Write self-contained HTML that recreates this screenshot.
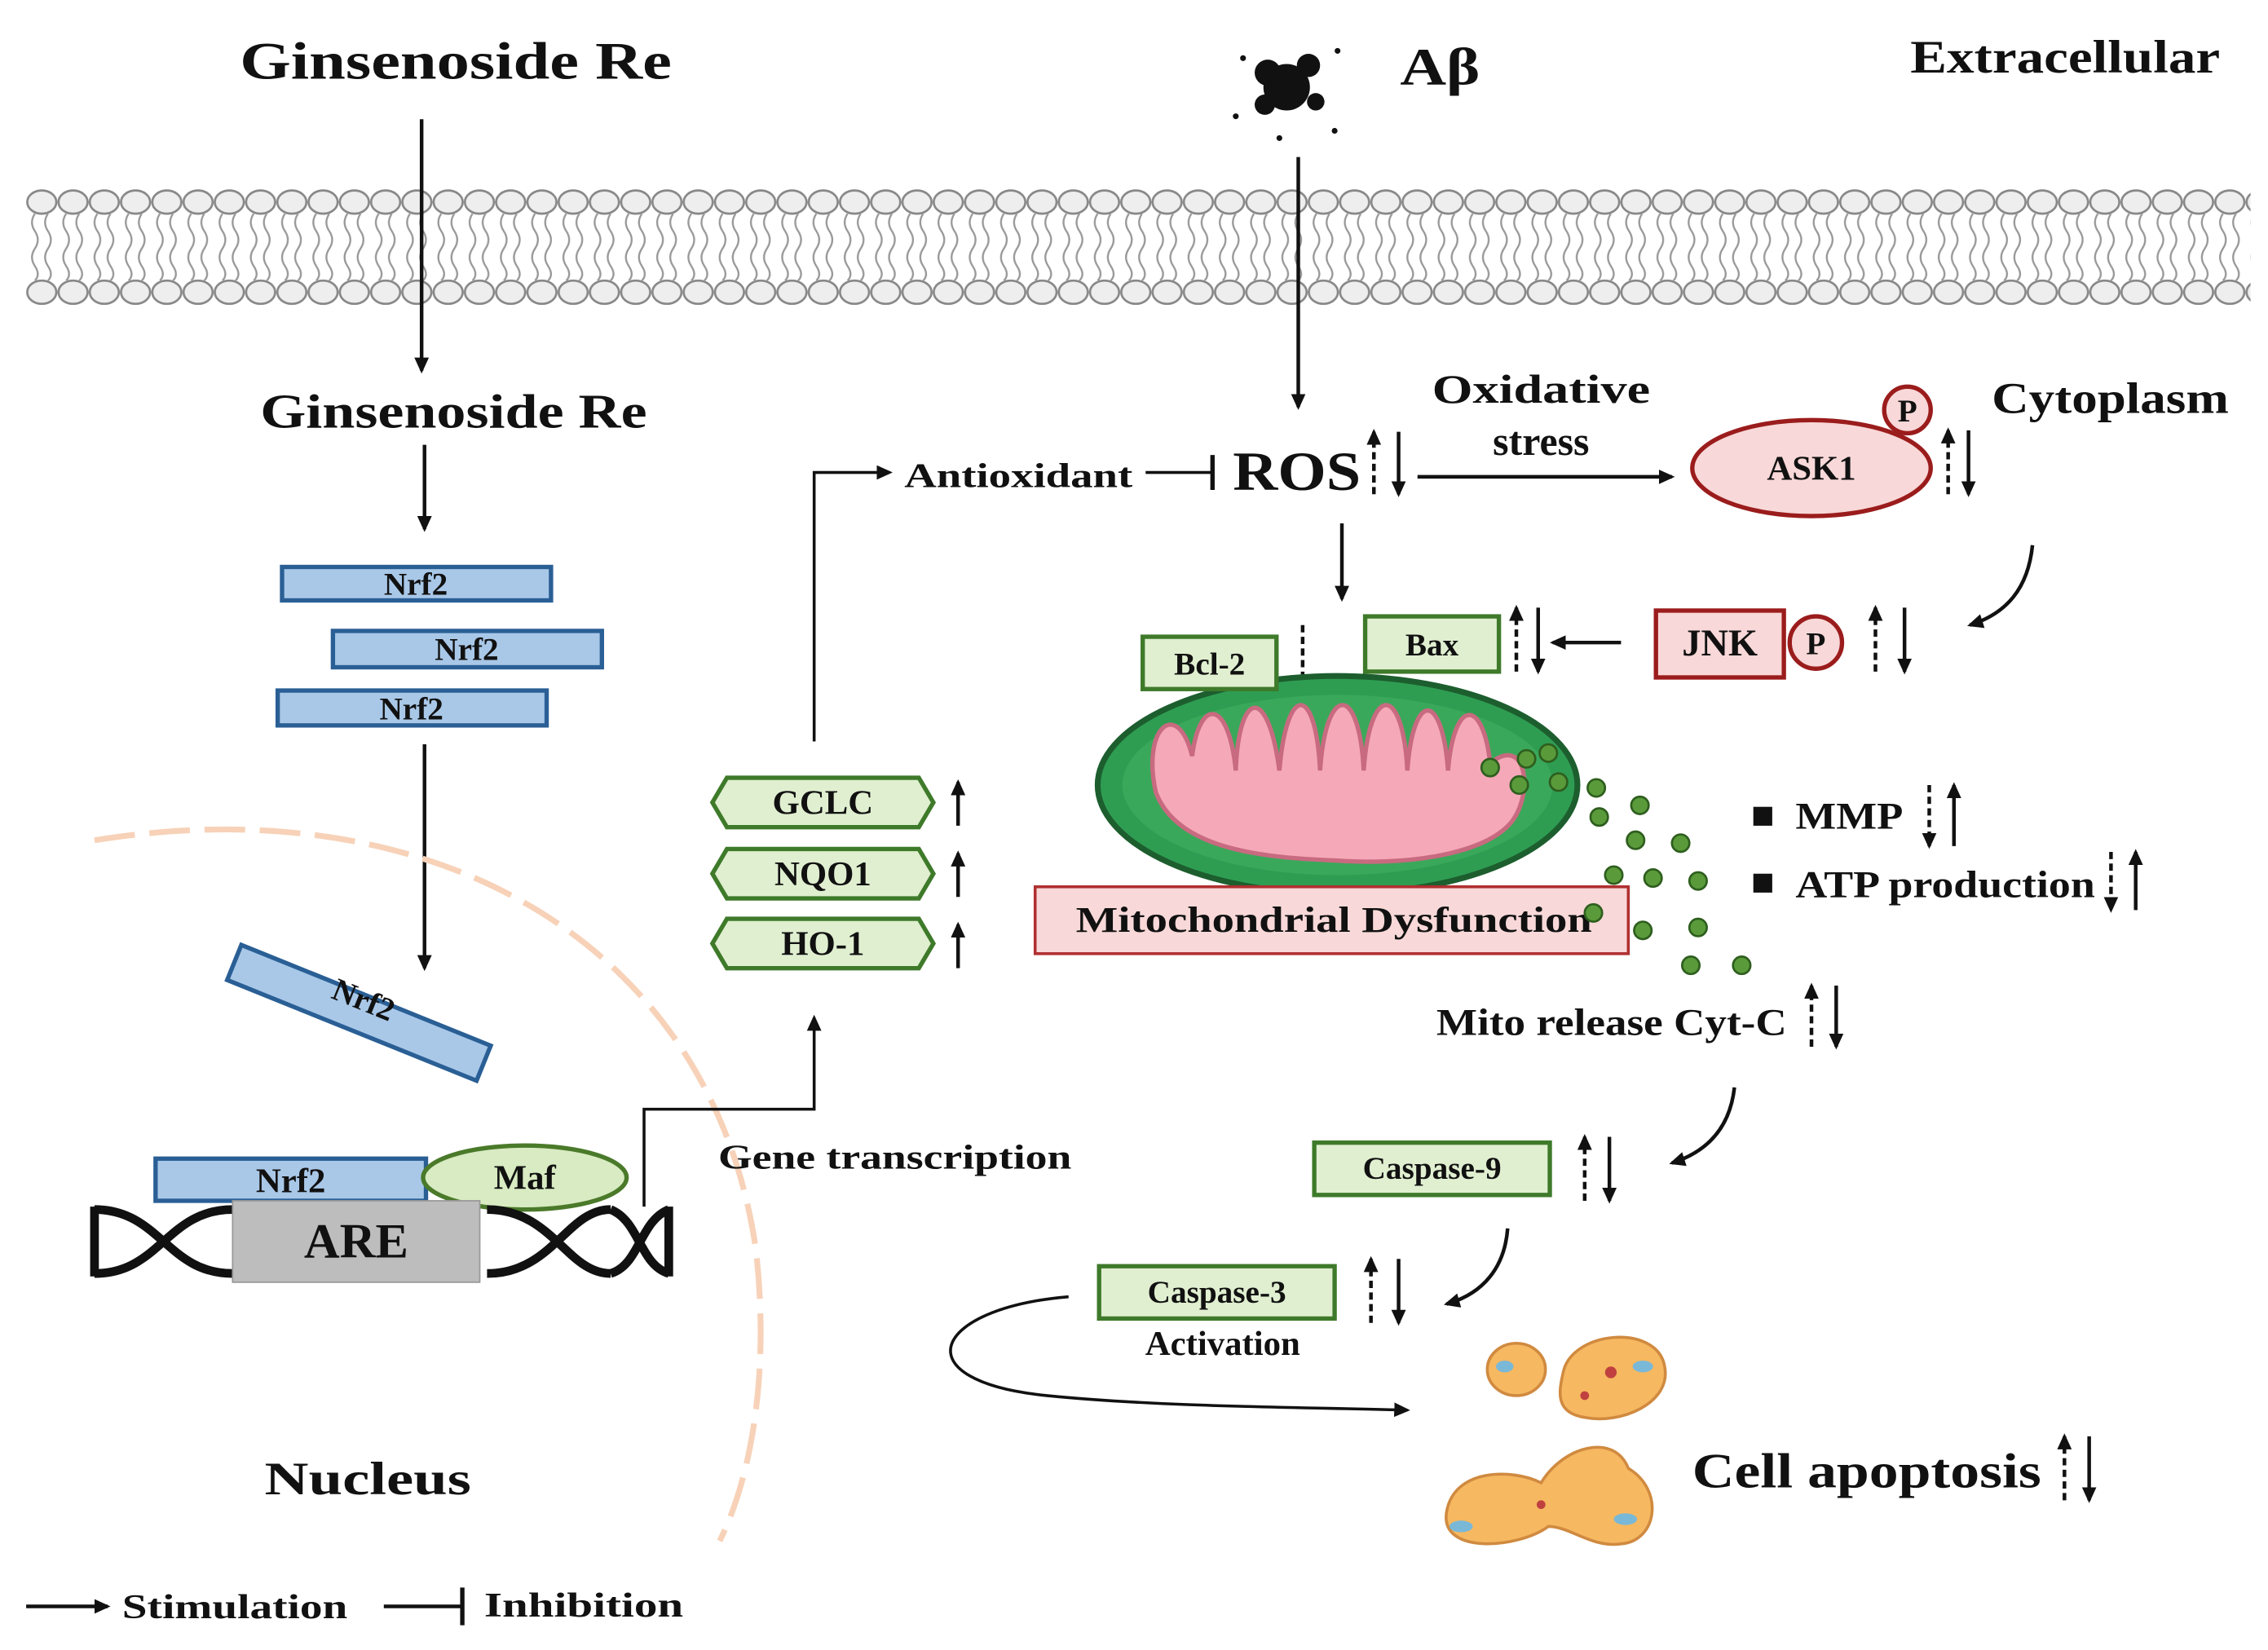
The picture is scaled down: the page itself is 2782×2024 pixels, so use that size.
<!DOCTYPE html>
<html><head><meta charset="utf-8"><style>
html,body{margin:0;padding:0;background:#fff}
svg{display:block}
text{font-family:"Liberation Serif",serif;font-weight:bold;fill:#111}
</style></head><body>
<svg width="2782" height="2024" viewBox="0 0 1560 1135" preserveAspectRatio="none" xmlns="http://www.w3.org/2000/svg">
<defs>
<marker id="ar" markerWidth="12" markerHeight="12" refX="9" refY="6" orient="auto" markerUnits="userSpaceOnUse"><path d="M0,1 L11,6 L0,11 z" fill="#111"/></marker>
<pattern id="mem" x="18" y="0" width="21.5" height="1135" patternUnits="userSpaceOnUse">
<ellipse cx="10.75" cy="139" rx="10" ry="8" fill="#eee" stroke="#888" stroke-width="1.5"/>
<ellipse cx="10.75" cy="201" rx="10" ry="8" fill="#eee" stroke="#888" stroke-width="1.5"/>
<path d="M6,147 q-4,6 0,12 q4,6 0,12 q-4,6 0,12 q4,6 0,10 M15,147 q-4,6 0,12 q4,6 0,12 q-4,6 0,12 q4,6 0,10" fill="none" stroke="#999" stroke-width="1.3"/>
</pattern>
</defs>
<rect x="18" y="128" width="1530" height="84" fill="url(#mem)"/>

<text x="165" y="54" font-size="36" textLength="297" lengthAdjust="spacingAndGlyphs">Ginsenoside  Re</text>
<text x="179" y="294" font-size="33" textLength="266" lengthAdjust="spacingAndGlyphs">Ginsenoside Re</text>
<text x="1314" y="50" font-size="32" textLength="213" lengthAdjust="spacingAndGlyphs">Extracellular</text>
<text x="1370" y="284" font-size="30" textLength="163" lengthAdjust="spacingAndGlyphs">Cytoplasm</text>
<text x="963" y="58" font-size="36" textLength="55" lengthAdjust="spacingAndGlyphs">Aβ</text>
<g fill="#111"><circle cx="885" cy="60" r="16"/><circle cx="872" cy="50" r="9"/><circle cx="900" cy="45" r="8"/><circle cx="870" cy="72" r="7"/><circle cx="905" cy="70" r="6"/><circle cx="855" cy="40" r="2"/><circle cx="920" cy="35" r="2"/><circle cx="850" cy="80" r="2"/><circle cx="918" cy="90" r="2"/><circle cx="880" cy="95" r="2"/></g>

<line x1="290" y1="82" x2="290" y2="255" stroke="#111" stroke-width="2.5" marker-end="url(#ar)"/>
<line x1="292" y1="306" x2="292" y2="364" stroke="#111" stroke-width="2.5" marker-end="url(#ar)"/>
<g fill="#a9c8e8" stroke="#2a5f95" stroke-width="3">
<rect x="194" y="390" width="185" height="23"/>
<rect x="229" y="434" width="185" height="25"/>
<rect x="191" y="475" width="185" height="24"/>
<rect x="107" y="797" width="186" height="29"/>
<rect x="0" y="0" width="185" height="26" transform="translate(166,650) rotate(22)"/>
</g>
<text x="286" y="409" font-size="22" text-anchor="middle">Nrf2</text>
<text x="321" y="454" font-size="22" text-anchor="middle">Nrf2</text>
<text x="283" y="495" font-size="22" text-anchor="middle">Nrf2</text>
<text x="200" y="820" font-size="24" text-anchor="middle">Nrf2</text>
<text x="250" y="695" font-size="22" text-anchor="middle" transform="rotate(22 250 688)">Nrf2</text>
<line x1="292" y1="512" x2="292" y2="666" stroke="#111" stroke-width="2.5" marker-end="url(#ar)"/>
<path d="M65,578 C300,540 490,650 520,860 C530,950 515,1020 495,1060" fill="none" stroke="#f7d2b8" stroke-width="4" stroke-dasharray="28,10"/>
<ellipse cx="361" cy="810" rx="70" ry="22" fill="#d8ebc2" stroke="#4a7a2a" stroke-width="3"/>
<text x="361" y="818" font-size="24" text-anchor="middle">Maf</text>
<g stroke="#111" stroke-width="6" fill="none">
<path d="M65,830 L65,878 M65,832 C110,832 115,876 160,876 M65,876 C110,876 115,832 160,832"/>
<path d="M335,832 C380,832 390,876 420,876 M335,876 C380,876 390,832 420,832 M420,832 C440,840 440,870 460,876 M420,876 C440,870 440,840 460,832 M460,830 L460,878"/>
</g>
<rect x="160" y="826" width="170" height="56" fill="#bdbdbd" stroke="#999"/>
<text x="245" y="865" font-size="34" text-anchor="middle" font-weight="normal">ARE</text>
<text x="182" y="1028" font-size="32" textLength="142" lengthAdjust="spacingAndGlyphs">Nucleus</text>
<polyline points="443,830 443,763 560,763 560,700" fill="none" stroke="#111" stroke-width="2" marker-end="url(#ar)"/>
<text x="494" y="804" font-size="24" textLength="243" lengthAdjust="spacingAndGlyphs">Gene transcription</text>

<g fill="#e0efd0" stroke="#3e7a2a" stroke-width="3">
<polygon points="490,552 500,535 632,535 642,552 632,569 500,569"/>
<polygon points="490,601 500,584 632,584 642,601 632,618 500,618"/>
<polygon points="490,649 500,632 632,632 642,649 632,666 500,666"/>
</g>
<text x="566" y="560" font-size="24" text-anchor="middle">GCLC</text>
<text x="566" y="609" font-size="24" text-anchor="middle">NQO1</text>
<text x="566" y="657" font-size="24" text-anchor="middle">HO-1</text>
<g stroke="#111" stroke-width="2.5"><line x1="659" y1="568" x2="659" y2="538" marker-end="url(#ar)"/><line x1="659" y1="617" x2="659" y2="587" marker-end="url(#ar)"/><line x1="659" y1="666" x2="659" y2="636" marker-end="url(#ar)"/></g>
<polyline points="560,510 560,325 612,325" fill="none" stroke="#111" stroke-width="2" marker-end="url(#ar)"/>
<text x="622" y="335" font-size="24" textLength="157" lengthAdjust="spacingAndGlyphs">Antioxidant</text>
<line x1="788" y1="325" x2="834" y2="325" stroke="#111" stroke-width="2"/><line x1="834" y1="313" x2="834" y2="337" stroke="#111" stroke-width="3"/>

<line x1="893" y1="108" x2="893" y2="280" stroke="#111" stroke-width="2.5" marker-end="url(#ar)"/>
<text x="848" y="337" font-size="38" font-weight="normal" textLength="88" lengthAdjust="spacingAndGlyphs">ROS</text>
<g stroke="#111" stroke-width="2.5">
<line x1="945" y1="340" x2="945" y2="297" stroke-dasharray="5,3" marker-end="url(#ar)"/>
<line x1="962" y1="297" x2="962" y2="340" marker-end="url(#ar)"/>
<line x1="975" y1="328" x2="1150" y2="328" marker-end="url(#ar)"/>
<line x1="923" y1="360" x2="923" y2="412" marker-end="url(#ar)"/>
</g>
<text x="985" y="277" font-size="28" textLength="150" lengthAdjust="spacingAndGlyphs">Oxidative</text>
<text x="1060" y="313" font-size="28" text-anchor="middle">stress</text>
<ellipse cx="1246" cy="322" rx="82" ry="33" fill="#f8d8d8" stroke="#9b1c1c" stroke-width="3"/>
<text x="1246" y="330" font-size="24" text-anchor="middle">ASK1</text>
<circle cx="1312" cy="282" r="16" fill="#f8d8d8" stroke="#9b1c1c" stroke-width="3"/><text x="1312" y="290" font-size="22" text-anchor="middle" font-weight="normal">P</text>
<g stroke="#111" stroke-width="2.5">
<line x1="1340" y1="340" x2="1340" y2="296" stroke-dasharray="5,3" marker-end="url(#ar)"/>
<line x1="1354" y1="296" x2="1354" y2="340" marker-end="url(#ar)"/>
</g>
<path d="M1398,375 C1395,405 1380,422 1355,430" fill="none" stroke="#111" stroke-width="2.5" marker-end="url(#ar)"/>
<rect x="1139" y="420" width="88" height="46" fill="#f8d8d8" stroke="#9b1c1c" stroke-width="3"/>
<text x="1183" y="451" font-size="26" text-anchor="middle" font-weight="normal">JNK</text>
<circle cx="1249" cy="442" r="18" fill="#f8d8d8" stroke="#9b1c1c" stroke-width="3"/><text x="1249" y="450" font-size="22" text-anchor="middle" font-weight="normal">P</text>
<g stroke="#111" stroke-width="2.5">
<line x1="1290" y1="462" x2="1290" y2="418" stroke-dasharray="5,3" marker-end="url(#ar)"/>
<line x1="1310" y1="418" x2="1310" y2="462" marker-end="url(#ar)"/>
<line x1="1115" y1="442" x2="1068" y2="442" marker-end="url(#ar)"/>
<line x1="1043" y1="462" x2="1043" y2="418" stroke-dasharray="5,3" marker-end="url(#ar)"/>
<line x1="1058" y1="418" x2="1058" y2="462" marker-end="url(#ar)"/>
<line x1="896" y1="430" x2="896" y2="474" stroke-dasharray="5,3" marker-end="url(#ar)"/>
</g>

<ellipse cx="920" cy="540" rx="165" ry="75" fill="#2e9d52" stroke="#1d5e2e" stroke-width="4"/>
<ellipse cx="920" cy="540" rx="148" ry="62" fill="#3aa85a"/>
<path d="M795,545 C785,500 810,480 820,520 C825,480 845,480 850,530 C852,475 872,470 880,530 C885,470 905,470 908,530 C912,470 935,470 938,530 C942,470 965,470 968,530 C972,475 992,475 996,530 C1000,480 1020,480 1025,525 C1050,505 1055,545 1040,565 C1020,590 960,595 920,592 C870,590 810,585 795,545 Z" fill="#f5a8b8" stroke="#c86a80" stroke-width="3"/>
<rect x="786" y="438" width="92" height="36" fill="#e0efd0" stroke="#3e7a2a" stroke-width="3"/>
<text x="832" y="464" font-size="22" text-anchor="middle">Bcl-2</text>
<rect x="939" y="424" width="92" height="38" fill="#e0efd0" stroke="#3e7a2a" stroke-width="3"/>
<text x="985" y="451" font-size="22" text-anchor="middle">Bax</text>
<rect x="712" y="610" width="408" height="46" fill="#f8d8d8" stroke="#b03030" stroke-width="2"/>
<text x="740" y="641" font-size="25" textLength="355" lengthAdjust="spacingAndGlyphs">Mitochondrial Dysfunction</text>
<g fill="#5a9a3a" stroke="#2e5e1e" stroke-width="1.5">
<circle cx="1025" cy="528" r="6"/><circle cx="1050" cy="522" r="6"/><circle cx="1065" cy="518" r="6"/><circle cx="1045" cy="540" r="6"/><circle cx="1072" cy="538" r="6"/><circle cx="1098" cy="542" r="6"/><circle cx="1128" cy="554" r="6"/><circle cx="1100" cy="562" r="6"/><circle cx="1125" cy="578" r="6"/><circle cx="1156" cy="580" r="6"/><circle cx="1110" cy="602" r="6"/><circle cx="1137" cy="604" r="6"/><circle cx="1168" cy="606" r="6"/><circle cx="1096" cy="628" r="6"/><circle cx="1130" cy="640" r="6"/><circle cx="1168" cy="638" r="6"/><circle cx="1163" cy="664" r="6"/><circle cx="1198" cy="664" r="6"/>
</g>
<rect x="1206" y="555" width="13" height="13" fill="#111"/>
<text x="1235" y="570" font-size="26" textLength="74" lengthAdjust="spacingAndGlyphs">MMP</text>
<g stroke="#111" stroke-width="2.5"><line x1="1327" y1="540" x2="1327" y2="582" stroke-dasharray="5,3" marker-end="url(#ar)"/><line x1="1344" y1="582" x2="1344" y2="540" marker-end="url(#ar)"/></g>
<rect x="1206" y="601" width="13" height="13" fill="#111"/>
<text x="1235" y="617" font-size="26" textLength="206" lengthAdjust="spacingAndGlyphs">ATP production</text>
<g stroke="#111" stroke-width="2.5"><line x1="1452" y1="586" x2="1452" y2="626" stroke-dasharray="5,3" marker-end="url(#ar)"/><line x1="1469" y1="626" x2="1469" y2="586" marker-end="url(#ar)"/></g>
<text x="988" y="712" font-size="26" textLength="241" lengthAdjust="spacingAndGlyphs">Mito release Cyt-C</text>
<g stroke="#111" stroke-width="2.5"><line x1="1246" y1="720" x2="1246" y2="678" stroke-dasharray="5,3" marker-end="url(#ar)"/><line x1="1263" y1="678" x2="1263" y2="720" marker-end="url(#ar)"/></g>
<path d="M1193,748 C1190,775 1175,792 1150,800" fill="none" stroke="#111" stroke-width="2.5" marker-end="url(#ar)"/>
<rect x="904" y="786" width="162" height="36" fill="#e0efd0" stroke="#3e7a2a" stroke-width="3"/>
<text x="985" y="811" font-size="22" text-anchor="middle">Caspase-9</text>
<g stroke="#111" stroke-width="2.5"><line x1="1090" y1="826" x2="1090" y2="782" stroke-dasharray="5,3" marker-end="url(#ar)"/><line x1="1107" y1="782" x2="1107" y2="826" marker-end="url(#ar)"/></g>
<path d="M1037,845 C1035,872 1020,890 995,897" fill="none" stroke="#111" stroke-width="2.5" marker-end="url(#ar)"/>
<rect x="756" y="871" width="162" height="36" fill="#e0efd0" stroke="#3e7a2a" stroke-width="3"/>
<text x="837" y="896" font-size="22" text-anchor="middle">Caspase-3</text>
<text x="841" y="932" font-size="24" text-anchor="middle">Activation</text>
<g stroke="#111" stroke-width="2.5"><line x1="943" y1="910" x2="943" y2="866" stroke-dasharray="5,3" marker-end="url(#ar)"/><line x1="962" y1="866" x2="962" y2="910" marker-end="url(#ar)"/></g>
<path d="M735,892 C640,900 620,950 720,960 C800,968 900,968 968,970" fill="none" stroke="#111" stroke-width="2" marker-end="url(#ar)"/>
<g stroke="#d08a40" stroke-width="2" fill="#f6b860">
<ellipse cx="1043" cy="942" rx="20" ry="18"/>
<path d="M1075,945 C1080,915 1140,910 1145,940 C1150,965 1115,980 1090,975 C1070,972 1072,958 1075,945 Z"/>
<path d="M995,1040 C1000,1010 1040,1010 1060,1020 C1075,995 1110,985 1120,1010 C1145,1025 1140,1060 1115,1062 C1095,1065 1080,1050 1065,1050 C1045,1065 990,1070 995,1040 Z"/>
</g>
<g fill="#7ab8d8"><ellipse cx="1035" cy="940" rx="6" ry="4"/><ellipse cx="1130" cy="940" rx="7" ry="4"/><ellipse cx="1005" cy="1050" rx="8" ry="4"/><ellipse cx="1118" cy="1045" rx="8" ry="4"/></g>
<g fill="#c04040"><circle cx="1108" cy="944" r="4"/><circle cx="1090" cy="960" r="3"/><circle cx="1060" cy="1035" r="3"/></g>
<text x="1164" y="1023" font-size="34" textLength="240" lengthAdjust="spacingAndGlyphs">Cell apoptosis</text>
<g stroke="#111" stroke-width="2.5"><line x1="1420" y1="1032" x2="1420" y2="988" stroke-dasharray="5,3" marker-end="url(#ar)"/><line x1="1437" y1="988" x2="1437" y2="1032" marker-end="url(#ar)"/></g>

<line x1="18" y1="1105" x2="74" y2="1105" stroke="#111" stroke-width="2.5" marker-end="url(#ar)"/>
<text x="84" y="1113" font-size="24" textLength="155" lengthAdjust="spacingAndGlyphs">Stimulation</text>
<line x1="264" y1="1105" x2="318" y2="1105" stroke="#111" stroke-width="2.5"/><line x1="318" y1="1092" x2="318" y2="1118" stroke="#111" stroke-width="3"/>
<text x="333" y="1112" font-size="24" textLength="137" lengthAdjust="spacingAndGlyphs">Inhibition</text>
</svg>
</body></html>
